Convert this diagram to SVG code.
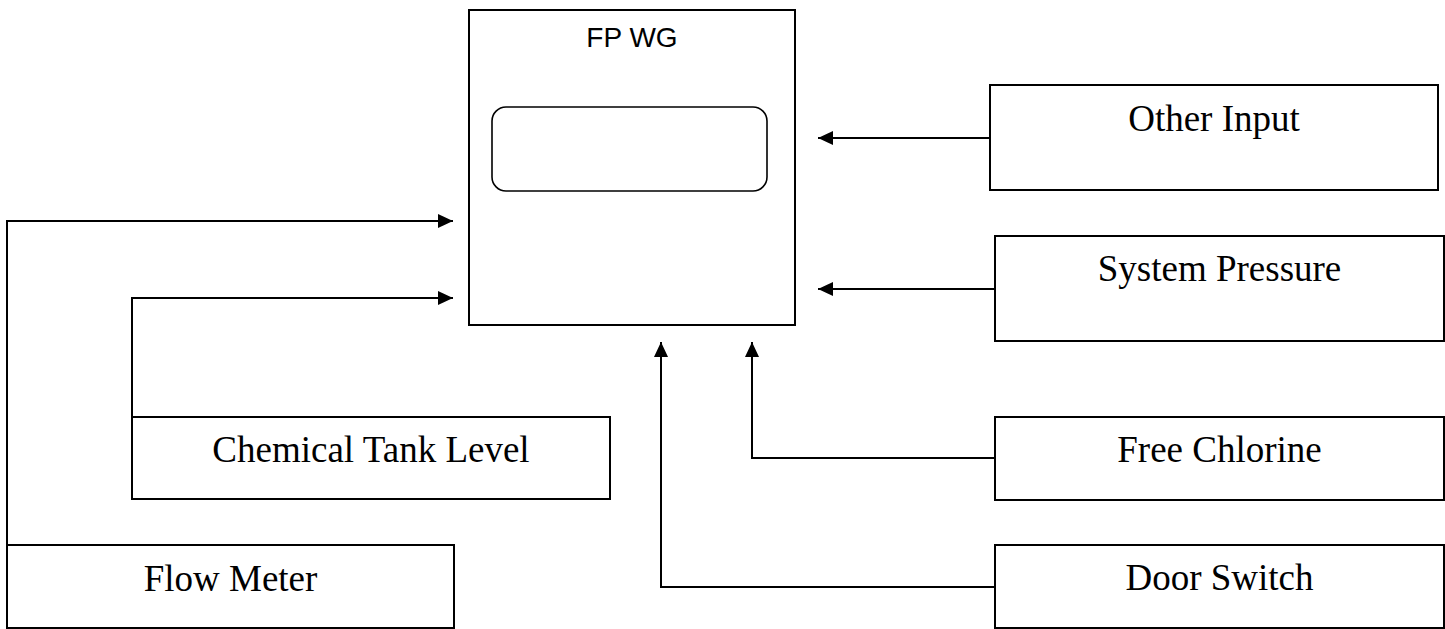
<svg xmlns="http://www.w3.org/2000/svg" width="1445" height="629" viewBox="0 0 1445 629">
<style>
.box{fill:#fff;stroke:#000;stroke-width:2}
.inner{fill:none;stroke:#000;stroke-width:1.6}
.lbl{font-family:"Liberation Serif","Times New Roman",serif;font-size:37px;text-anchor:middle;fill:#000}
.ttl{font-family:"Liberation Sans",Arial,sans-serif;font-size:28px;text-anchor:middle;fill:#000}
.conn{fill:none;stroke:#000;stroke-width:2}
</style>
<defs>
<marker id="arr" viewBox="0 0 15 14" refX="15" refY="7" markerWidth="15" markerHeight="14" markerUnits="userSpaceOnUse" orient="auto">
<path d="M0,0 L15,7 L0,14 Z" fill="#000"/>
</marker>
</defs>
<rect width="1445" height="629" fill="#fff"/>
<g id="connectors">
<path class="conn" d="M7,545 V221 H453" marker-end="url(#arr)"/>
<path class="conn" d="M132,417 V298 H453" marker-end="url(#arr)"/>
<path class="conn" d="M990,138 H818" marker-end="url(#arr)"/>
<path class="conn" d="M995,289 H818" marker-end="url(#arr)"/>
<path class="conn" d="M995,458 H752 V342" marker-end="url(#arr)"/>
<path class="conn" d="M995,587 H661 V342" marker-end="url(#arr)"/>
</g>
<g id="fpwg">
<rect class="box" x="469" y="10" width="326" height="315"/>
<text class="ttl" x="632" y="47">FP WG</text>
<rect class="inner" x="492" y="107" width="275" height="84" rx="14" ry="14"/>
</g>
<g id="other-input">
<rect class="box" x="990" y="85" width="448" height="105"/>
<text class="lbl" x="1214" y="131">Other Input</text>
</g>
<g id="system-pressure">
<rect class="box" x="995" y="236" width="449" height="105"/>
<text class="lbl" x="1219.5" y="281">System Pressure</text>
</g>
<g id="free-chlorine">
<rect class="box" x="995" y="417" width="449" height="83"/>
<text class="lbl" x="1219.5" y="462">Free Chlorine</text>
</g>
<g id="door-switch">
<rect class="box" x="995" y="545" width="449" height="83"/>
<text class="lbl" x="1219.5" y="590">Door Switch</text>
</g>
<g id="chemical-tank-level">
<rect class="box" x="132" y="417" width="478" height="82"/>
<text class="lbl" x="371" y="462">Chemical Tank Level</text>
</g>
<g id="flow-meter">
<rect class="box" x="7" y="545" width="447" height="83"/>
<text class="lbl" x="230.5" y="591">Flow Meter</text>
</g>
</svg>
